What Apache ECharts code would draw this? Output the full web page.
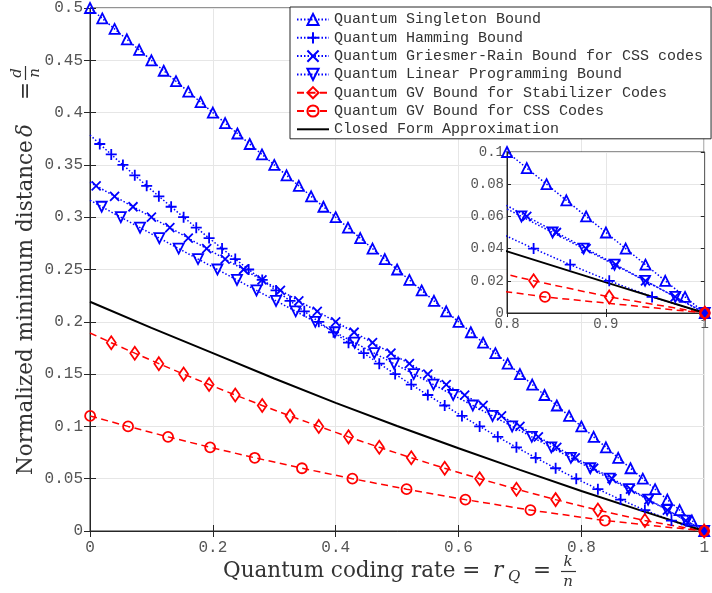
<!DOCTYPE html>
<html>
<head>
<meta charset="utf-8">
<script src="https://cdn.jsdelivr.net/npm/echarts@6/dist/echarts.min.js"></script>
<style>
html, body { margin: 0; padding: 0; background: #fff; }
#chart { width: 712px; height: 593px; }
</style>
</head>
<body>
<div id="chart"></div>
<script>
// rate r = k/n on x, delta = d/n on y
var singletonRate = [0, 0.02, 0.04, 0.06, 0.08, 0.1, 0.12, 0.14, 0.16, 0.18, 0.2, 0.22, 0.24, 0.26, 0.28, 0.3, 0.32, 0.34, 0.36, 0.38, 0.4, 0.42, 0.44, 0.46, 0.48, 0.5, 0.52, 0.54, 0.56, 0.58, 0.6, 0.62, 0.64, 0.66, 0.68, 0.7, 0.72, 0.74, 0.76, 0.78, 0.8, 0.82, 0.84, 0.86, 0.88, 0.9, 0.92, 0.94, 0.96, 0.98, 1];
var singletonDelta = [0.5, 0.49, 0.48, 0.47, 0.46, 0.45, 0.44, 0.43, 0.42, 0.41, 0.4, 0.39, 0.38, 0.37, 0.36, 0.35, 0.34, 0.33, 0.32, 0.31, 0.3, 0.29, 0.28, 0.27, 0.26, 0.25, 0.24, 0.23, 0.22, 0.21, 0.2, 0.19, 0.18, 0.17, 0.16, 0.15, 0.14, 0.13, 0.12, 0.11, 0.1, 0.09, 0.08, 0.07, 0.06, 0.05, 0.04, 0.03, 0.02, 0.01, 0];

var hammingRate = [0, 0.0159, 0.0346, 0.0536, 0.0729, 0.0923, 0.1121, 0.1321, 0.1524, 0.1730, 0.1939, 0.2150, 0.2365, 0.2583, 0.2804, 0.3029, 0.3257, 0.3489, 0.3725, 0.3965, 0.4209, 0.4457, 0.4710, 0.4968, 0.5231, 0.5500, 0.5775, 0.6056, 0.6344, 0.6639, 0.6943, 0.7257, 0.7581, 0.7917, 0.8269, 0.8639, 0.9034, 0.9467, 1];
var hammingDelta = [0.3786, 0.37, 0.36, 0.35, 0.34, 0.33, 0.32, 0.31, 0.3, 0.29, 0.28, 0.27, 0.26, 0.25, 0.24, 0.23, 0.22, 0.21, 0.2, 0.19, 0.18, 0.17, 0.16, 0.15, 0.14, 0.13, 0.12, 0.11, 0.1, 0.09, 0.08, 0.07, 0.06, 0.05, 0.04, 0.03, 0.02, 0.01, 0];

var griesmerRate = [0, 0.01, 0.04, 0.07, 0.1, 0.13, 0.16, 0.19, 0.22, 0.25, 0.28, 0.31, 0.34, 0.37, 0.4, 0.43, 0.46, 0.49, 0.52, 0.55, 0.58, 0.61, 0.64, 0.67, 0.7, 0.73, 0.76, 0.79, 0.82, 0.85, 0.88, 0.91, 0.94, 0.97, 1];
var griesmerDelta = [0.3333, 0.33, 0.32, 0.31, 0.3, 0.29, 0.28, 0.27, 0.26, 0.25, 0.24, 0.23, 0.22, 0.21, 0.2, 0.19, 0.18, 0.17, 0.16, 0.15, 0.14, 0.13, 0.12, 0.11, 0.1, 0.09, 0.08, 0.07, 0.06, 0.05, 0.04, 0.03, 0.02, 0.01, 0];

var lpRate = [0, 0.0190, 0.0502, 0.0815, 0.1129, 0.1444, 0.1759, 0.2075, 0.2393, 0.2711, 0.3029, 0.3349, 0.3668, 0.3988, 0.4309, 0.4629, 0.4950, 0.5271, 0.5592, 0.5913, 0.6233, 0.6554, 0.6873, 0.7193, 0.7511, 0.7829, 0.8146, 0.8461, 0.8775, 0.9087, 0.9396, 0.9702, 1];
var lpDelta = [0.3162, 0.31, 0.3, 0.29, 0.28, 0.27, 0.26, 0.25, 0.24, 0.23, 0.22, 0.21, 0.2, 0.19, 0.18, 0.17, 0.16, 0.15, 0.14, 0.13, 0.12, 0.11, 0.1, 0.09, 0.08, 0.07, 0.06, 0.05, 0.04, 0.03, 0.02, 0.01, 0];

var gvStabRate = [0, 0.0346, 0.0729, 0.1121, 0.1524, 0.1939, 0.2365, 0.2804, 0.3257, 0.3725, 0.4209, 0.4710, 0.5231, 0.5775, 0.6344, 0.6943, 0.7581, 0.8269, 0.9034, 1];
var gvStabDelta = [0.1893, 0.18, 0.17, 0.16, 0.15, 0.14, 0.13, 0.12, 0.11, 0.1, 0.09, 0.08, 0.07, 0.06, 0.05, 0.04, 0.03, 0.02, 0.01, 0];

var gvCssRate = [0.0002, 0.0620, 0.1271, 0.1956, 0.2682, 0.3451, 0.4272, 0.5154, 0.6112, 0.7171, 0.8384, 1];
var gvCssDelta = [0.11, 0.1, 0.09, 0.08, 0.07, 0.06, 0.05, 0.04, 0.03, 0.02, 0.01, 0];

var closedRate = [0, 0.1, 0.2, 0.3, 0.4, 0.5, 0.6, 0.7, 0.8, 0.9, 1];
var closedDelta = [0.2192, 0.1942, 0.1700, 0.1458, 0.1225, 0.1004, 0.0791, 0.0584, 0.0383, 0.0190, 0];

var legendNames = [
	'Quantum Singleton Bound',
	'Quantum Hamming Bound',
	'Quantum Griesmer-Rain Bound for CSS codes',
	'Quantum Linear Programming Bound',
	'Quantum GV Bound for Stabilizer Codes',
	'Quantum GV Bound for CSS Codes',
	'Closed Form Approximation'
];

var blue = '#0000ff', red = '#ff0000', axisColor = '#262626', gridColor = '#e6e6e6';
var monoFont = 'Liberation Mono';

//把x,y两列拼成点，noMarkFirst时起点不画标记
function pairs(xs, ys, noMarkFirst) {
	return xs.map(function (x, i) {
		var item = { value: [x, ys[i]] };
		if (noMarkFirst && i === 0) item.symbol = 'none';
		return item;
	});
}

var curves = [
	{ name: legendNames[0], x: singletonRate, y: singletonDelta, skip: false, color: blue, dash: [1.5, 2], symbol: 'triangle', size: 10 },
	{ name: legendNames[1], x: hammingRate, y: hammingDelta, skip: true, color: blue, dash: [1.5, 2], symbol: 'path://M5,0L5,10M0,5L10,5', size: 11 },
	{ name: legendNames[2], x: griesmerRate, y: griesmerDelta, skip: true, color: blue, dash: [1.5, 2], symbol: 'path://M0,0L10,10M10,0L0,10', size: 9 },
	{ name: legendNames[3], x: lpRate, y: lpDelta, skip: true, color: blue, dash: [1.5, 2], symbol: 'path://M0,0L10,0L5,9Z', size: 10 },
	{ name: legendNames[4], x: gvStabRate, y: gvStabDelta, skip: true, color: red, dash: [7, 4.5], symbol: 'diamond', size: [9, 13] },
	{ name: legendNames[5], x: gvCssRate, y: gvCssDelta, skip: false, color: red, dash: [7, 4.5], symbol: 'circle', size: 10 },
	{ name: legendNames[6], x: closedRate, y: closedDelta, skip: false, color: '#000', dash: 'solid', symbol: 'none', size: 0 }
];

var series = [];
[0, 2].forEach(function (axisIdx) {
	curves.forEach(function (c) {
		var plain = c.symbol === 'none';
		series.push({
			name: c.name,
			type: 'line',
			xAxisIndex: axisIdx,
			yAxisIndex: axisIdx,
			z: axisIdx === 0 ? 2 : 7,
			clip: true,
			symbol: c.symbol,
			symbolSize: c.size,
			showSymbol: !plain,
			itemStyle: { color: 'rgba(255,255,255,0)', borderColor: plain ? 'rgba(0,0,0,0)' : c.color, borderWidth: plain ? 0 : 1.8 },
			lineStyle: { color: c.color, width: plain ? 2 : 1.5, type: c.dash },
			emphasis: { disabled: true },
			data: pairs(c.x, c.y, c.skip)
		});
	});
});

function valueAxis(grid, pos, min, max, step, labelSize, tickLen, z, showLabel) {
	var horiz = pos === 'bottom' || pos === 'top';
	return {
		type: 'value',
		gridIndex: grid,
		position: pos,
		min: min,
		max: max,
		interval: step,
		z: z,
		axisLine: { show: showLabel, lineStyle: { color: axisColor, width: 1 } },
		axisTick: { show: true, inside: true, length: tickLen, lineStyle: { color: axisColor } },
		axisLabel: {
			show: showLabel,
			margin: horiz ? (grid === 0 ? 9 : 4) : (grid === 0 ? 7 : 3),
			fontFamily: monoFont,
			fontSize: labelSize,
			color: '#555'
		},
		splitLine: { show: showLabel, lineStyle: { color: gridColor, width: 1 } }
	};
}

var titleFont = '21.5px "DejaVu Serif"', smallItalic = 'italic 15px "DejaVu Serif"';
function txt(x, y, s, font, align) {
	return {
		type: 'text', x: x, y: y, silent: true,
		style: { text: s, font: font || titleFont, fill: '#333', align: align || 'left', verticalAlign: 'middle' }
	};
}

var chart = echarts.init(document.getElementById('chart'));
chart.setOption({
	animation: false,
	backgroundColor: '#fff',
	grid: [
		{ left: 90, right: 1, top: 8, bottom: 62, show: true, backgroundColor: '#fff', borderColor: axisColor, borderWidth: 1 },
		{ left: 507, right: 5, top: 152, height: 161, show: true, backgroundColor: '#fff', borderColor: axisColor, borderWidth: 1, z: 5 }
	],
	xAxis: [
		valueAxis(0, 'bottom', 0, 1, 0.2, 16, 6, 1, true),
		valueAxis(0, 'top', 0, 1, 0.2, 16, 6, 1, false),
		valueAxis(1, 'bottom', 0.8, 1, 0.1, 14, 4, 6, true),
		valueAxis(1, 'top', 0.8, 1, 0.1, 14, 4, 6, false)
	],
	yAxis: [
		valueAxis(0, 'left', 0, 0.5, 0.05, 16, 6, 1, true),
		valueAxis(0, 'right', 0, 0.5, 0.05, 16, 6, 1, false),
		valueAxis(1, 'left', 0, 0.1, 0.02, 14, 4, 6, true),
		valueAxis(1, 'right', 0, 0.1, 0.02, 14, 4, 6, false)
	],
	legend: {
		data: legendNames,
		orient: 'vertical',
		left: 290,
		top: 7,
		padding: [5, 8, 2, 6],
		itemGap: 3.3,
		itemWidth: 32,
		itemHeight: 14,
		selectedMode: false,
		backgroundColor: '#fff',
		borderColor: axisColor,
		borderWidth: 1,
		textStyle: { fontFamily: monoFont, fontSize: 15, color: '#333' }
	},
	graphic: [
		{
			type: 'group',
			silent: true,
			children: [
				txt(223, 571, 'Quantum coding rate ='),
				txt(493, 571, 'r', 'italic 21.5px "DejaVu Serif"'),
				txt(508, 577, 'Q', smallItalic),
				txt(533, 571, '='),
				txt(568, 562, 'k', smallItalic, 'center'),
				{ type: 'line', shape: { x1: 561, y1: 571.5, x2: 576, y2: 571.5 }, style: { stroke: '#333', lineWidth: 1.2 } },
				txt(568, 582, 'n', smallItalic, 'center')
			]
		},
		{
			type: 'group',
			silent: true,
			x: 26,
			y: 475,
			rotation: Math.PI / 2,
			children: [
				txt(0, 0, 'Normalized minimum distance'),
				txt(338, 0, 'δ', 'italic 21.5px "DejaVu Serif"'),
				txt(375, 0, '='),
				txt(402, -9, 'd', smallItalic, 'center'),
				{ type: 'line', shape: { x1: 395, y1: -0.5, x2: 409, y2: -0.5 }, style: { stroke: '#333', lineWidth: 1.2 } },
				txt(402, 9, 'n', smallItalic, 'center')
			]
		}
	],
	series: series
});
</script>
</body>
</html>
